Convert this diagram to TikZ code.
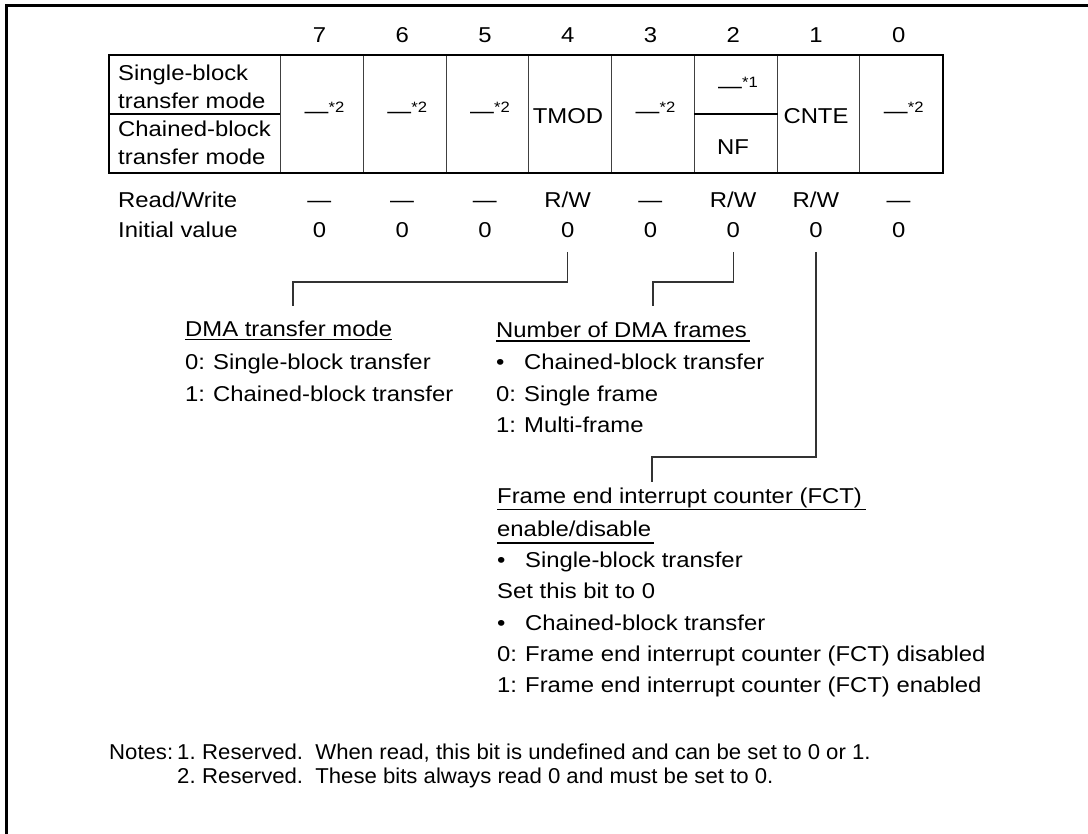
\documentclass[tikz,border=0pt]{standalone}
\usepackage{fontspec}
\setmainfont{Liberation Sans}[FakeStretch=1.11]
\newfontfamily\notesfont{Liberation Sans}[FakeStretch=1.03]
\newcommand{\regsup}[1]{\raisebox{6.5pt}{\fontsize{15}{15}\selectfont #1}}
\begin{document}
\begin{tikzpicture}[x=1pt,y=-1pt,
  txt/.style={inner sep=0pt, font=\fontsize{21.5}{25}\selectfont},
  lt/.style={txt, anchor=base west},
  ct/.style={txt, anchor=base},
  cell/.style={draw=black!75, line width=1.1pt, minimum width=82.75pt, minimum height=117pt, inner sep=0pt, anchor=north west},
  conn/.style={draw=black!80, line width=1.3pt},
  uline/.style={line width=1.2pt},
  note/.style={inner sep=0pt, anchor=base west, font=\notesfont\fontsize{21.5}{23}\selectfont},
  frameline/.style={line width=3pt}
]
\useasboundingbox (0,0) rectangle (1088,834);
% frame
\draw[frameline] (6.5,834) -- (6.5,5.5) -- (1088,5.5);

% label cell
\node[cell, minimum width=171pt] (lab) at (109,55) {};
\draw[black, line width=1.2pt] (lab.west) -- (lab.east);
\node[lt] (l1) at (118,81) {Single-block};
\node[lt] (l2) at (118,108.5) {transfer mode};
\node[lt] (l3) at (118,137) {Chained-block};
\node[lt] (l4) at (118,164.5) {transfer mode};
\node[lt] (lrw) at (118,208) {Read/Write};
\node[lt] (liv) at (118,238) {Initial value};

% bit cells, numbers, R/W, initial values
\foreach \i/\x/\rw in {7/280/—,6/362.75/—,5/445.5/—,4/528.25/{R/W},3/611/—,2/693.75/{R/W},1/776.5/{R/W},0/859.25/—}{
  \node[cell] (b\i) at (\x,55) {};
  \node[ct] (n\i) at (\x+39.4,43) {\i};
  \node[ct] (rw\i) at (\x+39.4,208) {\rw};
  \node[ct] (iv\i) at (\x+39.4,238) {0};
}
\draw[black, line width=1.2pt] (b2.west) -- (b2.east);
% outer border
\draw[line width=1.4pt] (lab.north west) rectangle (b0.south east);

% cell contents
\foreach \i/\x in {7/280,6/362.75,5/445.5,3/611,0/859.25}{
  \node[ct] (c\i) at (\x+44.5,119) {—\regsup{*2}};
}
\node[ct] (c4) at (568,124) {TMOD};
\node[ct] (c1) at (816,124) {CNTE};
\node[ct] (c2a) at (738,94) {—\regsup{*1}};
\node[ct] (c2b) at (733,155) {NF};

% DMA transfer mode
\node[lt] (hA) at (185,337) {DMA transfer mode};
\draw[uline] ([yshift=-2.5pt]hA.base west) -- ([yshift=-2.5pt]hA.base east);
\node[lt] (a1) at (185,370) {\makebox[28pt][l]{0:}Single-block transfer};
\node[lt] (a2) at (185,402) {\makebox[28pt][l]{1:}Chained-block transfer};

% Number of DMA frames
\node[lt] (hB) at (496,338) {Number of DMA frames};
\draw[uline] ([yshift=-3pt]hB.base west) -- ([yshift=-3pt,xshift=3pt]hB.base east);
\node[lt] (bb1) at (496,370) {\makebox[28pt][l]{•}Chained-block transfer};
\node[lt] (bb2) at (496,402) {\makebox[28pt][l]{0:}Single frame};
\node[lt] (bb3) at (496,433) {\makebox[28pt][l]{1:}Multi-frame};

% Frame end interrupt counter
\node[lt] (hC) at (497,503) {Frame end interrupt counter (FCT)};
\draw[uline] ([yshift=-6.5pt]hC.base west) -- ([yshift=-6.5pt,xshift=4pt]hC.base east);
\node[lt] (hC2) at (497,536) {enable/disable};
\draw[uline] ([yshift=-7pt]hC2.base west) -- ([yshift=-7pt,xshift=3pt]hC2.base east);
\node[lt] (cc1) at (497,567) {\makebox[28pt][l]{•}Single-block transfer};
\node[lt] (cc2) at (497,598) {Set this bit to 0};
\node[lt] (cc3) at (497,630) {\makebox[28pt][l]{•}Chained-block transfer};
\node[lt] (cc4) at (497,661) {\makebox[28pt][l]{0:}Frame end interrupt counter (FCT) disabled};
\node[lt] (cc5) at (497,692) {\makebox[28pt][l]{1:}Frame end interrupt counter (FCT) enabled};

% connectors
\coordinate (s4) at ([yshift=-14pt]iv4.base);
\coordinate (s2) at ([yshift=-14pt]iv2.base);
\coordinate (s1) at ([yshift=-14pt]iv1.base);
\coordinate (eA) at (293,306);
\coordinate (eB) at (653,306);
\coordinate (eC) at (652,482);
\draw[conn] (s4) -- ++(0,30) -| (eA);
\draw[conn] (s2) -- ++(0,30) -| (eB);
\draw[conn] (s1) -- ++(0,205) -| (eC);

% notes
\node[note] (nt) at (109,759) {Notes:};
\node[note] (nt1) at (177,759) {1.};
\node[note] (nt1t) at (202,759) {Reserved.\ \ When read, this bit is undefined and can be set to 0 or 1.};
\node[note] (nt2) at (177,783) {2.};
\node[note] (nt2t) at (202,783) {Reserved.\ \ These bits always read 0 and must be set to 0.};
\end{tikzpicture}
\end{document}
